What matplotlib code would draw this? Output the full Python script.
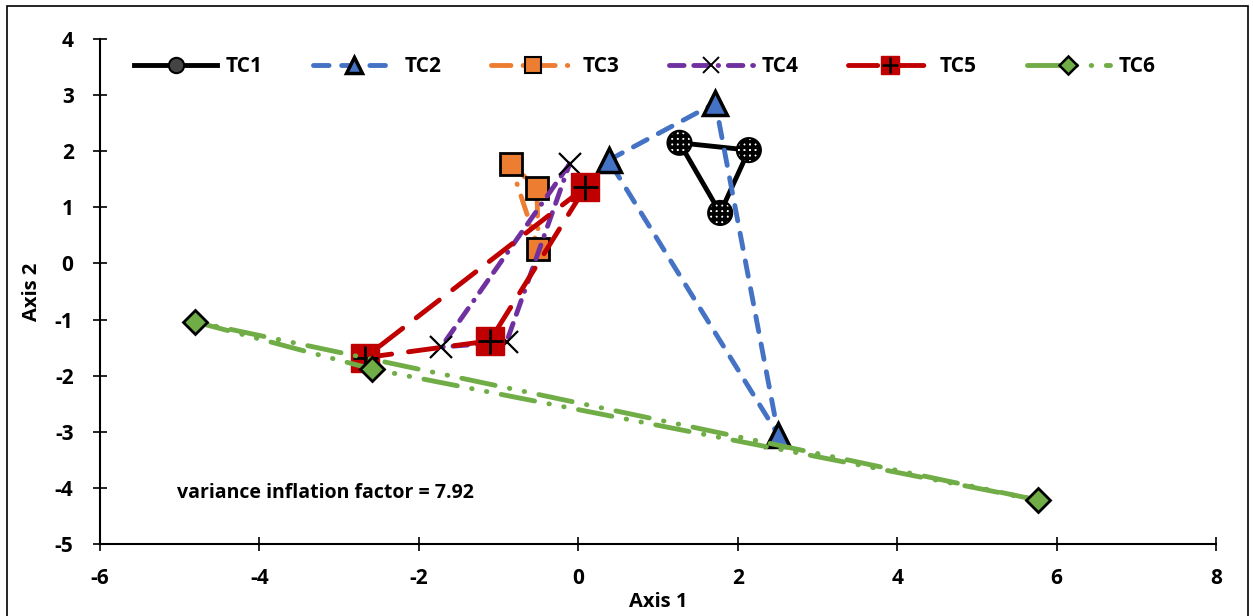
import numpy as np
import matplotlib
matplotlib.use("Agg")
import matplotlib.pyplot as plt
from matplotlib.lines import Line2D
from matplotlib.patches import Rectangle
from matplotlib.legend_handler import HandlerTuple

plt.rcParams['font.family'] = ['Open Sans', 'DejaVu Sans']
plt.rcParams['font.weight'] = 'bold'
plt.rcParams['axes.unicode_minus'] = False
plt.rcParams['hatch.linewidth'] = 2.6

# three points per treatment (closed loops)
tc1_x = [1.27, 2.14, 1.78]
tc1_y = [2.15, 2.02, 0.90]
tc2_x = [0.38, 1.72, 2.51]
tc2_y = [1.84, 2.86, -3.06]
tc3_x = [-0.85, -0.52, -0.50]
tc3_y = [1.77, 1.35, 0.26]
tc4_x = [-0.11, -1.72, -0.90]
tc4_y = [1.77, -1.49, -1.40]
tc5_x = [0.09, -2.68, -1.11]
tc5_y = [1.36, -1.68, -1.38]
tc6_x = [-4.81, -2.59, 5.77]
tc6_y = [-1.04, -1.88, -4.22]

labels = ['TC1', 'TC2', 'TC3', 'TC4', 'TC5', 'TC6']
x_ticks = [-6, -4, -2, 0, 2, 4, 6, 8]
y_ticks = [-5, -4, -3, -2, -1, 0, 1, 2, 3, 4]
vif_text = 'variance inflation factor = 7.92'


def closed(v):
    return np.append(v, v[0])


fig = plt.figure(figsize=(12.53, 6.16), dpi=100)
ax = fig.add_axes([100 / 1253, 1 - 544 / 616, 1116 / 1253, 505 / 616])

blue = '#4472C4'
orange = '#ED7D31'
purple = '#7030A0'
red = '#C00000'
green = '#70AD47'

# TC1
ax.plot(closed(tc1_x), closed(tc1_y), color='black', lw=3.5,
        solid_capstyle='round', zorder=2)
ax.scatter(tc1_x, tc1_y, s=300, marker='o', facecolor='white',
           edgecolor='black', linewidths=1.5, hatch='+++', zorder=3)

# TC2
ax.plot(closed(tc2_x), closed(tc2_y), color=blue, lw=3.5,
        ls=(0, (3.2, 2.6)), dash_capstyle='round', zorder=4)
ax.plot(tc2_x, tc2_y, ls='none', marker='^', ms=17, mfc=blue,
        mec='black', mew=2.5, zorder=5)

# TC3
ax.plot(closed(tc3_x), closed(tc3_y), color=orange, lw=3.5,
        ls=(0, (4, 2.5, 0.1, 2.5)), dash_capstyle='round', zorder=6)
ax.plot(tc3_x, tc3_y, ls='none', marker='s', ms=16, mfc=orange,
        mec='black', mew=2, zorder=7)

# TC4
ax.plot(closed(tc4_x), closed(tc4_y), color=purple, lw=3.5,
        ls=(0, (3, 2, 3, 2, 0.1, 2)), dash_capstyle='round', zorder=8)
ax.plot(tc4_x, tc4_y, ls='none', marker='x', ms=16, mec='black',
        mew=1.6, zorder=9)

# TC5
ax.plot(closed(tc5_x), closed(tc5_y), color=red, lw=3.5,
        ls=(0, (6, 3.5)), dash_capstyle='round', zorder=10)
ax.plot(tc5_x, tc5_y, ls='none', marker='s', ms=20, mfc=red,
        mec=red, mew=1, zorder=11)
ax.plot(tc5_x, tc5_y, ls='none', marker='+', ms=18, mec='black',
        mew=2, zorder=12)

# TC6
ax.plot(closed(tc6_x), closed(tc6_y), color=green, lw=3.5,
        ls=(0, (7, 3, 0.1, 3, 0.1, 3)), dash_capstyle='round', zorder=13)
ax.plot(tc6_x, tc6_y, ls='none', marker='D', ms=12, mfc=green,
        mec='black', mew=2, zorder=14)

ax.set_xlim(x_ticks[0], x_ticks[-1])
ax.set_ylim(y_ticks[0], y_ticks[-1])
ax.set_xticks(x_ticks)
ax.set_yticks(y_ticks)
ax.tick_params(direction='inout', length=10, width=1.2, labelsize=15)
ax.xaxis.set_tick_params(pad=12)
ax.yaxis.set_tick_params(pad=14)
for lab in ax.get_xticklabels() + ax.get_yticklabels():
    lab.set_fontweight('bold')
ax.spines['top'].set_visible(False)
ax.spines['right'].set_visible(False)
for sp in ('left', 'bottom'):
    ax.spines[sp].set_linewidth(1.5)

ax.set_xlabel('Axis 1', fontsize=14.5, fontweight='bold')
ax.set_ylabel('Axis 2', fontsize=14.5, fontweight='bold')
ax.xaxis.set_label_coords(0.5, -0.095)
ax.yaxis.set_label_coords(-0.052, 0.5)

ax.text(0.069, 0.10, vif_text, transform=ax.transAxes, fontsize=14,
        fontweight='bold', ha='left', va='center')

# legend proxies
h1 = (Line2D([], [], color='black', lw=3.5),
      Line2D([], [], ls='none', marker='o', ms=11, mfc='#444444', mec='black', mew=1.5))
h2 = Line2D([], [], color=blue, lw=3.5, ls=(0, (3.2, 2.6)), dash_capstyle='round',
            marker='^', ms=12, mfc=blue, mec='black', mew=2.5)
h3 = Line2D([], [], color=orange, lw=3.5, ls=(0, (4, 2.5, 0.1, 2.5)),
            dash_capstyle='round', marker='s', ms=11, mfc=orange, mec='black', mew=1.5)
h4 = Line2D([], [], color=purple, lw=3.5, ls=(0, (3, 2, 3, 2, 0.1, 2)),
            dash_capstyle='round', marker='x', ms=12, mec='black', mew=1.4)
h5 = (Line2D([], [], color=red, lw=3.5, ls=(0, (6, 3.5)), dash_capstyle='round'),
      Line2D([], [], ls='none', marker='s', ms=13, mfc=red, mec=red),
      Line2D([], [], ls='none', marker='+', ms=12, mec='black', mew=1.8))
h6 = Line2D([], [], color=green, lw=3.5, ls=(0, (7, 3, 0.1, 3, 0.1, 3)),
            dash_capstyle='round', marker='D', ms=9, mfc=green, mec='black', mew=1.8)

ax.legend([h1, h2, h3, h4, h5, h6], labels, ncol=6, frameon=False,
          loc='center', bbox_to_anchor=(0.488, 0.945),
          prop={'weight': 'bold', 'size': 15},
          handlelength=4.0, handletextpad=0.4, columnspacing=2.4,
          handler_map={tuple: HandlerTuple(ndivide=1)})

fig.patches.append(Rectangle((7 / 1253, -0.01), 1 - 12 / 1253, 1.0,
                             transform=fig.transFigure, fill=False,
                             edgecolor='black', lw=1.2))

fig.savefig('out.png', dpi=100)
